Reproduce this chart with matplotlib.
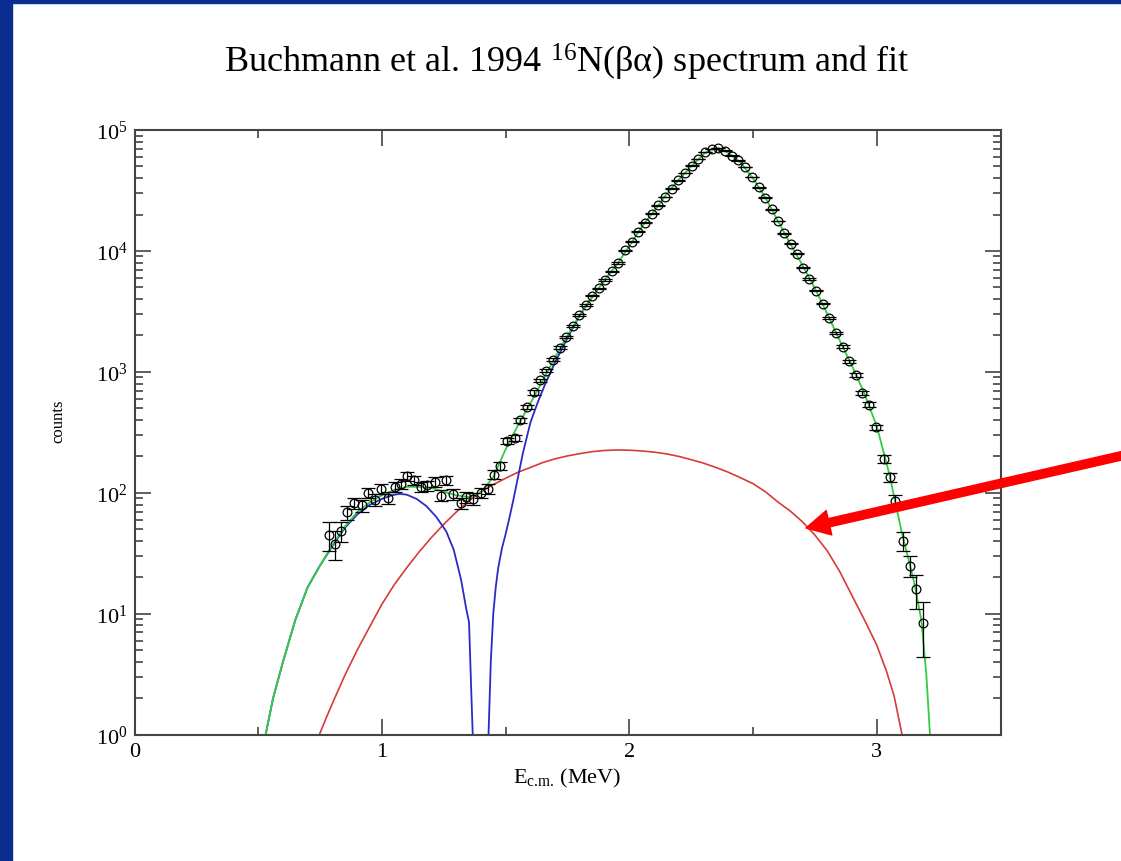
import numpy as np
import matplotlib
matplotlib.use("Agg")
import matplotlib.pyplot as plt
from matplotlib.patches import Rectangle, FancyArrowPatch
from matplotlib.ticker import MultipleLocator, LogLocator, NullFormatter

plt.rcParams["font.family"] = ["Liberation Serif", "DejaVu Serif"]
plt.rcParams["mathtext.fontset"] = "custom"
plt.rcParams["mathtext.rm"] = "Liberation Serif"
plt.rcParams["mathtext.it"] = "Liberation Serif:italic"

# ---- data -----------------------------------------------------------------
E_DATA = [
    0.785, 0.812, 0.835, 0.859, 0.889, 0.918, 0.943, 0.970, 0.997, 1.026,
    1.051, 1.078, 1.102, 1.129, 1.156, 1.183, 1.213, 1.237, 1.260, 1.287,
    1.318, 1.341, 1.368, 1.399, 1.428, 1.453, 1.479, 1.507, 1.536,
    1.560, 1.586, 1.613, 1.639, 1.665, 1.692, 1.718, 1.744, 1.771, 1.797,
    1.823, 1.850, 1.876, 1.903, 1.929, 1.955, 1.982, 2.009, 2.036, 2.063,
    2.090, 2.117, 2.144, 2.171, 2.198, 2.225, 2.252, 2.279, 2.306, 2.333,
    2.360, 2.387, 2.414, 2.441, 2.468, 2.495, 2.522, 2.548, 2.575, 2.601,
    2.626, 2.652, 2.679, 2.702, 2.728, 2.755, 2.782, 2.808, 2.835, 2.862,
    2.889, 2.915, 2.942, 2.969, 2.998, 3.028, 3.052, 3.075, 3.106, 3.133,
    3.160, 3.187,
]
COUNTS = [
    45, 38, 48, 69, 82, 79, 100, 88, 108, 91,
    112, 119, 137, 128, 112, 115, 123, 95, 127, 98,
    82, 92, 89, 100, 108, 141, 166, 267, 284,
    398, 513, 676, 851, 1023, 1259, 1585, 1950, 2399, 2951,
    3548, 4266, 4898, 5754, 6761, 7943, 10160, 11910, 14420, 17100,
    20370, 23820, 27990, 32730, 38280, 44060, 50820, 57680, 65610, 69820,
    71120, 67600, 61500, 56000, 49300, 40700, 33600, 27500, 22100, 17700,
    14000, 11500, 9510, 7290, 5870, 4690, 3670, 2790, 2090, 1620,
    1220, 942, 675, 536, 348, 191, 135, 86, 40, 25,
    16, 8.4,
]
ERRORS = [
    12, 10, 9, 9, 9, 9, 10, 10, 10, 10,
    10, 11, 11, 11, 10, 11, 11, 10, 11, 10,
    9, 10, 10, 10, 10, 12, 13, 16, 17,
    20, 23, 26, 29, 32, 35, 40, 44, 49, 54,
    60, 65, 70, 76, 82, 89, 101, 109, 120, 131,
    143, 154, 167, 181, 196, 210, 225, 240, 256, 264,
    267, 260, 248, 237, 222, 202, 183, 166, 149, 133,
    118, 107, 98, 85, 77, 68, 61, 53, 46, 40,
    35, 31, 26, 23, 19, 14, 12, 10, 7, 5,
    5, 4,
]

# total fit (green)
E_FIT = [
    0.530, 0.560, 0.600, 0.650, 0.700, 0.750, 0.800, 0.850, 0.900, 0.950,
    1.000, 1.050, 1.100, 1.150, 1.200, 1.250, 1.300, 1.350, 1.400, 1.450,
    1.500, 1.550, 1.600, 1.650, 1.700, 1.750, 1.800, 1.850, 1.900, 1.950,
    2.000, 2.050, 2.100, 2.150, 2.200, 2.250, 2.300, 2.330, 2.360, 2.400,
    2.450, 2.500, 2.550, 2.600, 2.650, 2.700, 2.750, 2.800, 2.850, 2.900,
    2.950, 3.000, 3.050, 3.100, 3.150, 3.180, 3.200, 3.215,
]
FIT_TOTAL = [
    1.0, 2.0, 4.0, 8.9, 16.6, 25.1, 37.2, 52.5, 69.2, 83.2,
    95.5, 105, 112, 112, 110, 102, 95.5, 92.3, 100, 135,
    229, 363, 550, 851, 1318, 1995, 2951, 4169, 5754, 7762,
    10960, 15850, 21380, 29510, 38900, 50120, 63100, 69180, 70800, 64570,
    53700, 39810, 27540, 17780, 11480, 7586, 4898, 3020, 1820, 1122,
    661, 355, 145, 48, 18.6, 8.9, 3.2, 1.0,
]

# resonance component (blue)
E_BLUE = [
    0.530, 0.560, 0.600, 0.650, 0.700, 0.750, 0.800, 0.850, 0.900, 0.950,
    1.000, 1.040, 1.070, 1.100, 1.140, 1.180, 1.220, 1.260, 1.290, 1.320,
    1.340, 1.352, 1.362, 1.400, 1.440, 1.450, 1.460, 1.470, 1.485, 1.500,
    1.515, 1.530, 1.550, 1.570, 1.600, 1.630, 1.660, 1.700, 1.750, 1.800,
    1.850,
]
FIT_BLUE = [
    1.0, 2.0, 4.0, 8.9, 16.6, 25.1, 36.3, 51.3, 66.1, 79.4,
    89.1, 95.5, 98.0, 96.6, 89.1, 77.6, 63.1, 47.9, 33.9, 19.1,
    11.2, 8.5, 2.0, 0.01, 4.0, 10.0, 16.6, 24.0, 34.7, 45.7,
    61.7, 85.1, 135, 214, 380, 562, 794, 1202, 1905, 2951,
    4169,
]

# broad component (red)
E_RED = [
    0.747, 0.775, 0.800, 0.850, 0.900, 0.950, 1.000, 1.050, 1.100, 1.150,
    1.200, 1.250, 1.300, 1.350, 1.400, 1.450, 1.500, 1.550, 1.600, 1.650,
    1.700, 1.750, 1.800, 1.850, 1.900, 1.950, 2.000, 2.050, 2.100, 2.150,
    2.200, 2.250, 2.300, 2.350, 2.400, 2.450, 2.500, 2.550, 2.600, 2.650,
    2.700, 2.750, 2.800, 2.850, 2.900, 2.950, 3.000, 3.040, 3.070, 3.100,
    3.106,
]
FIT_RED = [
    1.0, 1.38, 1.82, 3.09, 5.01, 7.76, 12.0, 17.4, 24.0, 32.4,
    42.7, 55.0, 69.2, 85.1, 102, 117, 132, 148, 162, 178,
    191, 202, 211, 219, 224, 226, 225, 222, 217, 210,
    200, 188, 176, 162, 148, 133, 119, 102, 84.1, 70.8,
    57.5, 44.7, 33.1, 22.4, 14.1, 8.91, 5.50, 3.31, 2.09, 1.05,
    0.9,
]

# ---- figure -----------------------------------------------------------------
W, H = 1121, 862
fig = plt.figure(figsize=(W / 100, H / 100), dpi=100)
ax = fig.add_axes([134.5 / W, (H - 735.7) / H, 866.0 / W, 604.7 / H])

ax.plot(E_RED, FIT_RED, color="#d83a3a", lw=1.2)
ax.plot(E_BLUE, FIT_BLUE, color="#2b2bc4", lw=1.3)
ax.plot(E_FIT, FIT_TOTAL, color="#33cc44", lw=1.3)
ax.errorbar(E_DATA, COUNTS, yerr=ERRORS, fmt="o", ms=6.3, mfc="none",
            mec="black", mew=0.9, ecolor="black", elinewidth=0.9,
            capsize=5, capthick=0.9)

ax.set_yscale("log")
ax.set_xlim(0, 3.5)
ax.set_ylim(1, 1e5)
ax.xaxis.set_major_locator(MultipleLocator(1))
ax.xaxis.set_minor_locator(MultipleLocator(0.5))
ax.yaxis.set_major_locator(LogLocator(base=10, numticks=10))
ax.yaxis.set_minor_locator(LogLocator(base=10, subs=np.arange(2, 10), numticks=20))
ax.yaxis.set_minor_formatter(NullFormatter())

ax.tick_params(which="both", direction="in", top=True, right=True,
               color="#333333", width=1.1)
ax.tick_params(which="major", length=11.5, labelsize=16, pad=5)
ax.tick_params(which="minor", length=5.8)
for s in ax.spines.values():
    s.set_linewidth(1.5)
    s.set_color("#444444")

ax.set_xlabel(r"E$_{\text{c.m.}}$ (MeV)", fontsize=16, labelpad=4)
ax.set_ylabel("counts", fontsize=12)
ax.yaxis.set_label_coords(-0.079, 0.52)

fig.text(0.506, 1 - 62 / H, r"Buchmann et al. 1994 $^{16}$N(βα) spectrum and fit",
         ha="center", va="center", fontsize=26)

# navy slide frame on the left and top
fig.patches.append(Rectangle((0, 0), 12 / W, 1, transform=fig.transFigure,
                             color="#0a2d8f", zorder=0))
fig.patches.append(Rectangle((0, 1 - 4 / H), 1, 4 / H, transform=fig.transFigure,
                             color="#0a2d8f", zorder=0))

# red pointer arrow to the broad component
arrow = FancyArrowPatch((11.25, 4.06), (8.06, 3.33),
                        transform=fig.dpi_scale_trans,
                        arrowstyle="simple,head_length=1.7,head_width=1.8,tail_width=0.6",
                        mutation_scale=10, color="#ff0000", shrinkA=0, shrinkB=0)
fig.patches.append(arrow)

fig.savefig("out.png", dpi=100)
